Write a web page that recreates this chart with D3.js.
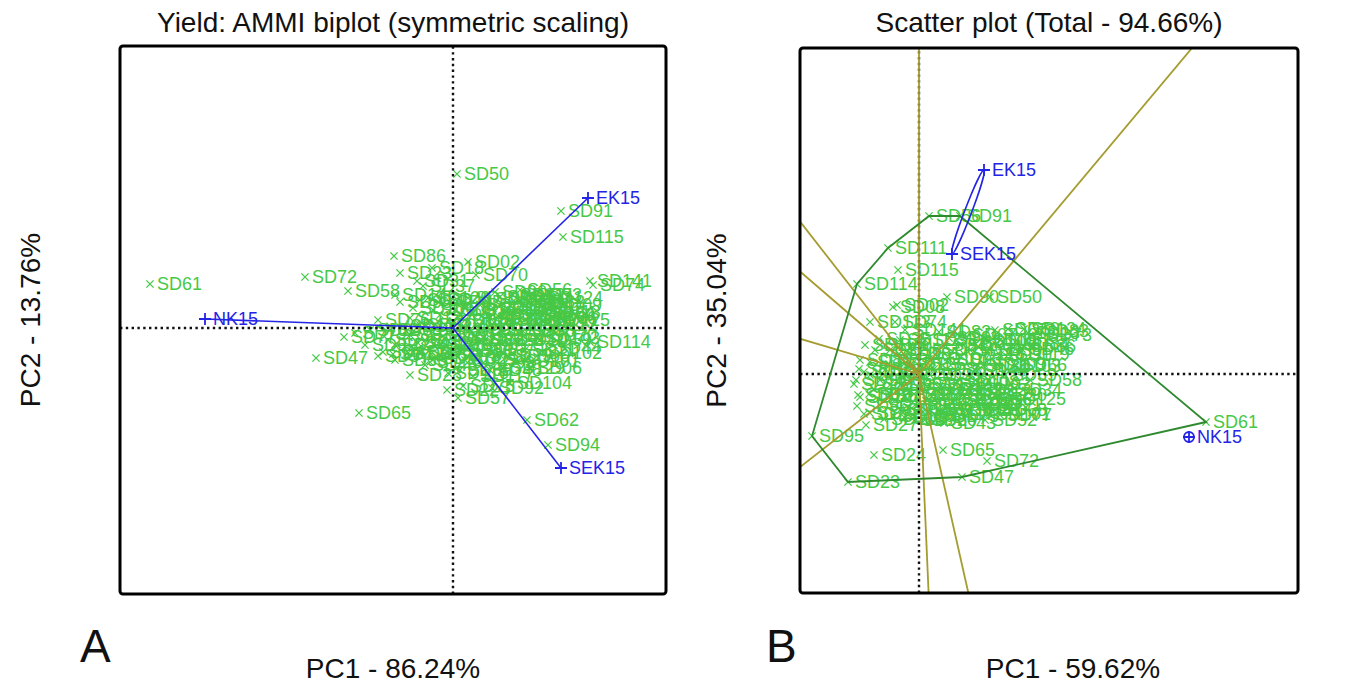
<!DOCTYPE html>
<html><head><meta charset="utf-8">
<script src="https://cdn.jsdelivr.net/npm/d3@7"></script>
<style>body{margin:0;background:#fff}svg{display:block}</style>
</head><body>
<svg id="c" width="1351" height="685"></svg>
<script>
// ---------- DATA ----------
const genotypes = ["SD61","SD72","SD58","SD86","SD23","SD18","SD02","SD31","SD70","SD14","SD95","SD90","SD113","SD112","SD76","SD77","SD47","SD41","SD28","SD22","SD57","SD17","SD102","SD06","SD104","SD92","SD65","SD62","SD94","SD114","SD141","SD74","SD91","SD115","SD50","SD111","SD56","SD08","SD69","SD13","SD46","SD43","SD24","SD10","SD27","SD01","SD03","SD04","SD05","SD07","SD09","SD11","SD12","SD15","SD16","SD19","SD20","SD21","SD25","SD26","SD29","SD30","SD32","SD33","SD34","SD36","SD38","SD39","SD40","SD42","SD44","SD45","SD48","SD49","SD51","SD52","SD53","SD54","SD55","SD59","SD60","SD63","SD64","SD66","SD67","SD68","SD71","SD73","SD78","SD80",
  "SD35","SD37","SD75","SD79","SD81","SD82","SD83","SD84","SD85","SD87","SD88","SD89","SD93","SD96","SD97","SD98","SD99","SD100","SD101","SD103","SD105","SD106","SD107","SD108","SD109","SD110","SD116","SD117","SD118","SD119","SD120","SD121","SD122","SD123","SD124","SD125","SD126","SD127","SD128","SD129"];
// Panel A (AMMI, symmetric scaling) genotype scores
const genoPC1_A = [-30.3,-14.8,-10.5,-5.9,-5.3,-2.1,1.5,-3.6,2.3,-5.8,-5.3,4.2,8.7,8.4,-7.5,-10.9,-13.7,-7.0,-4.3,-0.6,0.5,2.4,8.7,7.7,5.7,3.9,-9.4,7.4,9.5,13.7,13.7,14.0,10.8,11.0,0.4,6.2,6.7,4.7,-2.8,-4.3,-3.3,-2.3,-5.8,6.2,1.7,2.7,5.2,-1.3,1.2,6.7,9.7,3.7,5.2,0.2,-1.3,3.2,9.2,7.2,1.2,-2.3,4.7,9.0,-4.3,0.2,-8.3,-5.8,6.7,1.7,-1.3,5.7,9.6,-2.8,3.7,-0.8,7.7,-8.8,2.2,4.7,-2.3,8.7,0.7,2.7,-3.3,9.2,5.7,-6.3,4.2,7.7,-0.3,-3.3,
  -0.3,-3.0,1.0,-9.8,3.5,6.0,8.0,9.0,2.0,4.5,7.0,-1.0,-4.5,-6.5,-7.5,0.8,3.0,5.5,6.5,8.5,-2.0,-4.0,1.5,3.8,8.0,-1.8,-0.5,2.0,4.0,6.0,-3.5,-5.0,1.0,2.8,8.8,9.5,-2.5,-6.0,0.0,5.0];
const genoPC2_A = [4.4,5.1,3.7,7.2,5.5,6.0,6.6,4.7,5.3,3.3,2.6,3.6,1.6,0.3,0.8,-0.9,-3.0,-2.4,-4.7,-6.2,-7.0,-3.0,-2.5,-4.0,-5.5,-6.0,-8.5,-9.2,-11.7,-1.4,4.7,4.3,11.7,9.1,15.4,2.6,3.8,-0.2,-1.2,1.0,-2.4,-0.2,-1.7,-1.2,-1.7,2.3,1.8,1.3,0.8,2.8,2.3,1.0,-0.8,-1.0,-1.7,-1.2,-0.7,-2.2,-3.2,-3.4,-2.7,0.6,-0.7,1.8,-0.2,-3.2,0.8,-0.2,2.8,0.8,-2.0,-3.7,-4.2,0.3,2.0,-1.7,-2.2,3.1,-2.2,-1.2,-4.2,0.3,0.3,1.0,2.3,-0.2,-1.7,3.3,-2.7,2.8,
  2.6,4.2,-5.8,-0.5,2.9,3.3,2.6,1.5,1.5,1.2,-0.3,-0.8,-2.5,-1.2,-2.8,-2.3,-3.5,-2.8,-3.3,-1.0,1.8,2.0,3.0,0.3,1.3,-3.0,-4.5,-4.8,2.0,1.5,-1.5,0.2,-1.0,-1.2,3.0,0.8,3.0,-2.6,0.7,-4.0];
// Panel B (scatter / which-won-where) genotype scores
const genoPC1_B = [28.7,6.8,11.1,10.5,-7.1,-2.9,-2.2,5.9,4.1,-4.9,-10.7,2.8,-4.9,-1.9,6.1,8.1,4.3,1.1,-3.9,-4.9,-1.4,0.6,-5.4,-3.9,3.1,-0.4,2.4,-6.1,-6.3,-6.2,-1.4,-2.4,4.1,-2.1,7.1,-3.1,1.0,-2.6,8.9,10.9,10.3,2.5,-4.5,-5.9,-5.3,1.6,3.1,-1.9,0.1,4.6,6.6,4.1,5.6,-0.9,-3.4,2.1,7.6,7.1,3.6,-2.4,4.9,8.1,-4.4,0.6,9.1,2.1,7.1,1.1,-3.9,2.6,5.6,-0.4,4.1,-1.4,8.1,6.6,1.6,5.1,-2.9,8.6,0.6,3.1,-4.9,9.6,7.6,7.6,3.6,12.1,-1.9,-5.9,
  -4.0,-6.0,2.8,-5.5,-1.0,2.0,11.8,9.8,-3.0,-0.5,1.5,5.0,6.0,-6.2,-5.0,0.0,3.0,5.5,7.0,8.0,-2.0,-4.5,1.0,3.8,6.5,-2.5,-3.5,1.5,4.5,9.0,-3.0,-5.5,2.2,4.2,10.5,8.5,-1.5,-6.5,0.5,6.0];
const genoPC2_B = [-4.8,-8.7,-0.6,2.8,-10.8,2.4,6.9,0.8,2.9,1.2,-6.2,7.7,5.2,3.4,-2.5,-4.1,-10.3,-2.1,-3.1,-3.9,-4.4,-3.6,2.9,-0.6,-3.6,-4.6,-7.6,-2.1,-0.6,9.0,4.4,5.2,15.8,10.4,7.7,12.6,15.8,6.7,4.5,4.1,2.5,-4.9,-8.1,-2.3,-5.1,2.4,1.4,-1.1,-1.6,3.9,3.4,-0.6,-1.6,0.9,0.4,-1.1,-2.1,-3.1,-2.6,-2.6,-3.6,1.9,2.4,3.4,-1.6,-3.6,2.4,-0.1,2.9,2.9,0.4,-3.1,-2.1,-0.1,3.4,-4.6,-2.6,2.4,-1.1,-0.1,-4.6,-1.6,-0.1,0.9,4.4,-3.6,0.4,3.9,-3.6,1.4,
  3.5,0.5,-4.2,-4.0,2.0,4.2,4.3,3.0,1.0,-2.0,0.5,-3.0,-1.0,-3.2,-2.0,-3.0,3.6,3.2,-4.0,0.8,2.0,-1.5,1.5,-0.8,1.0,-4.2,-4.5,-4.0,2.0,2.0,-2.2,0.2,-1.5,-2.8,4.5,-2.5,1.0,-1.0,-1.0,-2.0];
// Environments
const environments = ["NK15","EK15","SEK15"];
const envPC1_A = [-24.8,13.5,10.8];
const envPC2_A = [0.9,13.0,-14.0];
const envPC1_B = [27.0,6.5,3.3];
const envPC2_B = [-6.3,20.4,12.0];
// Text
const titles = ["Yield: AMMI biplot (symmetric scaling)","Scatter plot (Total - 94.66%)"];
const xTitles = ["PC1 - 86.24%","PC1 - 59.62%"];
const yTitles = ["PC2 - 13.76%","PC2 - 35.04%"];
const panelLetters = ["A","B"];

// ---------- DRAWING ----------
const svg = d3.select("#c");
svg.append("rect").attr("width",1351).attr("height",685).attr("fill","#fff");
const FONT = "'Liberation Sans', Arial, sans-serif";
const GREEN = "#46c846", BLUE = "#2424e6", OLIVE = "#a59c30", HULL = "#2f8a2f";

const xA = d3.scaleLinear().domain([-33.3,21.3]).range([120,666]);
const yA = d3.scaleLinear().domain([-26.6,28.2]).range([594,46]);
const xB = d3.scaleLinear().domain([-11.9,37.9]).range([800,1298]);
const yB = d3.scaleLinear().domain([-21.9,32.6]).range([593,48]);

const defs = svg.append("defs");
function clip(id,x,y){
  defs.append("clipPath").attr("id",id).append("rect")
    .attr("x",x.range()[0]).attr("y",y.range()[1])
    .attr("width",x.range()[1]-x.range()[0]).attr("height",y.range()[0]-y.range()[1]);
}
clip("ca",xA,yA); clip("cb",xB,yB);

function crossPath(x,y,s){return `M${x-s},${y-s}L${x+s},${y+s}M${x-s},${y+s}L${x+s},${y-s}`;}
function plusPath(x,y,s){return `M${x-s},${y}L${x+s},${y}M${x},${y-s}L${x},${y+s}`;}

function genoLayer(g,x,y,p1,p2){
  const data = genotypes.map((n,i)=>({n,a:p1[i],b:p2[i]}));
  g.selectAll("path.gm").data(data).join("path").attr("class","gm")
    .attr("d",d=>crossPath(x(d.a),y(d.b),3.6))
    .attr("stroke",GREEN).attr("stroke-width",1.3).attr("fill","none");
  g.selectAll("text.gl").data(data).join("text").attr("class","gl")
    .attr("x",d=>x(d.a)+7).attr("y",d=>y(d.b)+6)
    .attr("font-family",FONT).attr("font-size",18).attr("fill",GREEN)
    .text(d=>d.n);
}
function crosshair(g,x,y){
  g.append("line").attr("x1",x.range()[0]).attr("x2",x.range()[1]).attr("y1",y(0)).attr("y2",y(0))
    .attr("stroke","#111").attr("stroke-width",2.4).attr("stroke-dasharray","2.4,3.4");
  g.append("line").attr("x1",x(0)).attr("x2",x(0)).attr("y1",y.range()[0]).attr("y2",y.range()[1])
    .attr("stroke","#111").attr("stroke-width",2.4).attr("stroke-dasharray","2.4,3.4");
}
function frame(x,y){
  svg.append("rect").attr("x",x.range()[0]).attr("y",y.range()[1])
    .attr("width",x.range()[1]-x.range()[0]).attr("height",y.range()[0]-y.range()[1])
    .attr("rx",3).attr("fill","none").attr("stroke","#000").attr("stroke-width",3);
}
function texts(i,x,y,letterX){
  const cx=(x.range()[0]+x.range()[1])/2, cy=(y.range()[0]+y.range()[1])/2;
  svg.append("text").attr("x",cx).attr("y",32).attr("text-anchor","middle")
    .attr("font-family",FONT).attr("font-size",28).attr("fill","#111").text(titles[i]);
  svg.append("text").attr("x",i===0?cx:cx+24).attr("y",678).attr("text-anchor","middle")
    .attr("font-family",FONT).attr("font-size",28).attr("fill","#111").text(xTitles[i]);
  const yx = i===0?40:726;
  svg.append("text").attr("transform",`translate(${yx},${cy}) rotate(-90)`).attr("text-anchor","middle")
    .attr("font-family",FONT).attr("font-size",28).attr("fill","#111").text(yTitles[i]);
  svg.append("text").attr("x",letterX).attr("y",662)
    .attr("font-family",FONT).attr("font-size",46).attr("fill","#111").text(panelLetters[i]);
}

// Panel A
const gA = svg.append("g").attr("clip-path","url(#ca)");
genoLayer(gA,xA,yA,genoPC1_A,genoPC2_A);
crosshair(gA,xA,yA);
const envA = environments.map((n,i)=>({n,a:envPC1_A[i],b:envPC2_A[i]}));
gA.selectAll("line.ev").data(envA).join("line").attr("class","ev")
  .attr("x1",xA(0)).attr("y1",yA(0)).attr("x2",d=>xA(d.a)).attr("y2",d=>yA(d.b))
  .attr("stroke",BLUE).attr("stroke-width",1.6);
gA.selectAll("path.em").data(envA).join("path").attr("class","em")
  .attr("d",d=>plusPath(xA(d.a),yA(d.b),6)).attr("stroke",BLUE).attr("stroke-width",1.8);
gA.selectAll("text.el").data(envA).join("text").attr("class","el")
  .attr("x",d=>xA(d.a)+8).attr("y",d=>yA(d.b)+6)
  .attr("font-family",FONT).attr("font-size",18).attr("fill",BLUE).text(d=>d.n);
frame(xA,yA);
texts(0,xA,yA,80);

// Panel B
const gB = svg.append("g").attr("clip-path","url(#cb)");
genoLayer(gB,xB,yB,genoPC1_B,genoPC2_B);
crosshair(gB,xB,yB);
const pts = genotypes.map((n,i)=>[genoPC1_B[i],genoPC2_B[i]]);
const hull = d3.polygonHull(pts);
// sector rays: perpendicular from origin to each hull edge
const rays = hull.map((p,i)=>{
  const q = hull[(i+1)%hull.length];
  const dx=q[0]-p[0], dy=q[1]-p[1];
  const t = -(p[0]*dx+p[1]*dy)/(dx*dx+dy*dy);
  const fx=p[0]+t*dx, fy=p[1]+t*dy;
  const L=Math.hypot(fx,fy);
  return [fx/L*200, fy/L*200];
});
gB.selectAll("line.ray").data(rays).join("line").attr("class","ray")
  .attr("x1",xB(0)).attr("y1",yB(0)).attr("x2",d=>xB(d[0])).attr("y2",d=>yB(d[1]))
  .attr("stroke",OLIVE).attr("stroke-width",1.8);
gB.append("path").attr("d",d3.line().x(d=>xB(d[0])).y(d=>yB(d[1])).curve(d3.curveLinearClosed)(hull))
  .attr("fill","none").attr("stroke",HULL).attr("stroke-width",1.8);
// EK15 - SEK15 thin loop
{
  const x1=xB(envPC1_B[1]), y1=yB(envPC2_B[1]), x2=xB(envPC1_B[2]), y2=yB(envPC2_B[2]);
  const cx=(x1+x2)/2, cy=(y1+y2)/2, rx=Math.hypot(x2-x1,y2-y1)/2;
  const ang=Math.atan2(y2-y1,x2-x1)*180/Math.PI;
  gB.append("ellipse").attr("cx",cx).attr("cy",cy).attr("rx",rx).attr("ry",3.5)
    .attr("transform",`rotate(${ang},${cx},${cy})`).attr("fill","none").attr("stroke",BLUE).attr("stroke-width",1.6);
}
const envB = environments.map((n,i)=>({n,a:envPC1_B[i],b:envPC2_B[i]}));
gB.selectAll("path.em").data(envB).join("path").attr("class","em")
  .attr("d",d=>plusPath(xB(d.a),yB(d.b),6)).attr("stroke",BLUE).attr("stroke-width",1.8);
gB.selectAll("circle.em").data(envB.filter(d=>d.n==="NK15")).join("circle").attr("class","em")
  .attr("cx",d=>xB(d.a)).attr("cy",d=>yB(d.b)).attr("r",5).attr("fill","none").attr("stroke",BLUE).attr("stroke-width",1.8);
gB.selectAll("text.el").data(envB).join("text").attr("class","el")
  .attr("x",d=>xB(d.a)+8).attr("y",d=>yB(d.b)+6)
  .attr("font-family",FONT).attr("font-size",18).attr("fill",BLUE).text(d=>d.n);
frame(xB,yB);
texts(1,xB,yB,766);
</script>
</body></html>
